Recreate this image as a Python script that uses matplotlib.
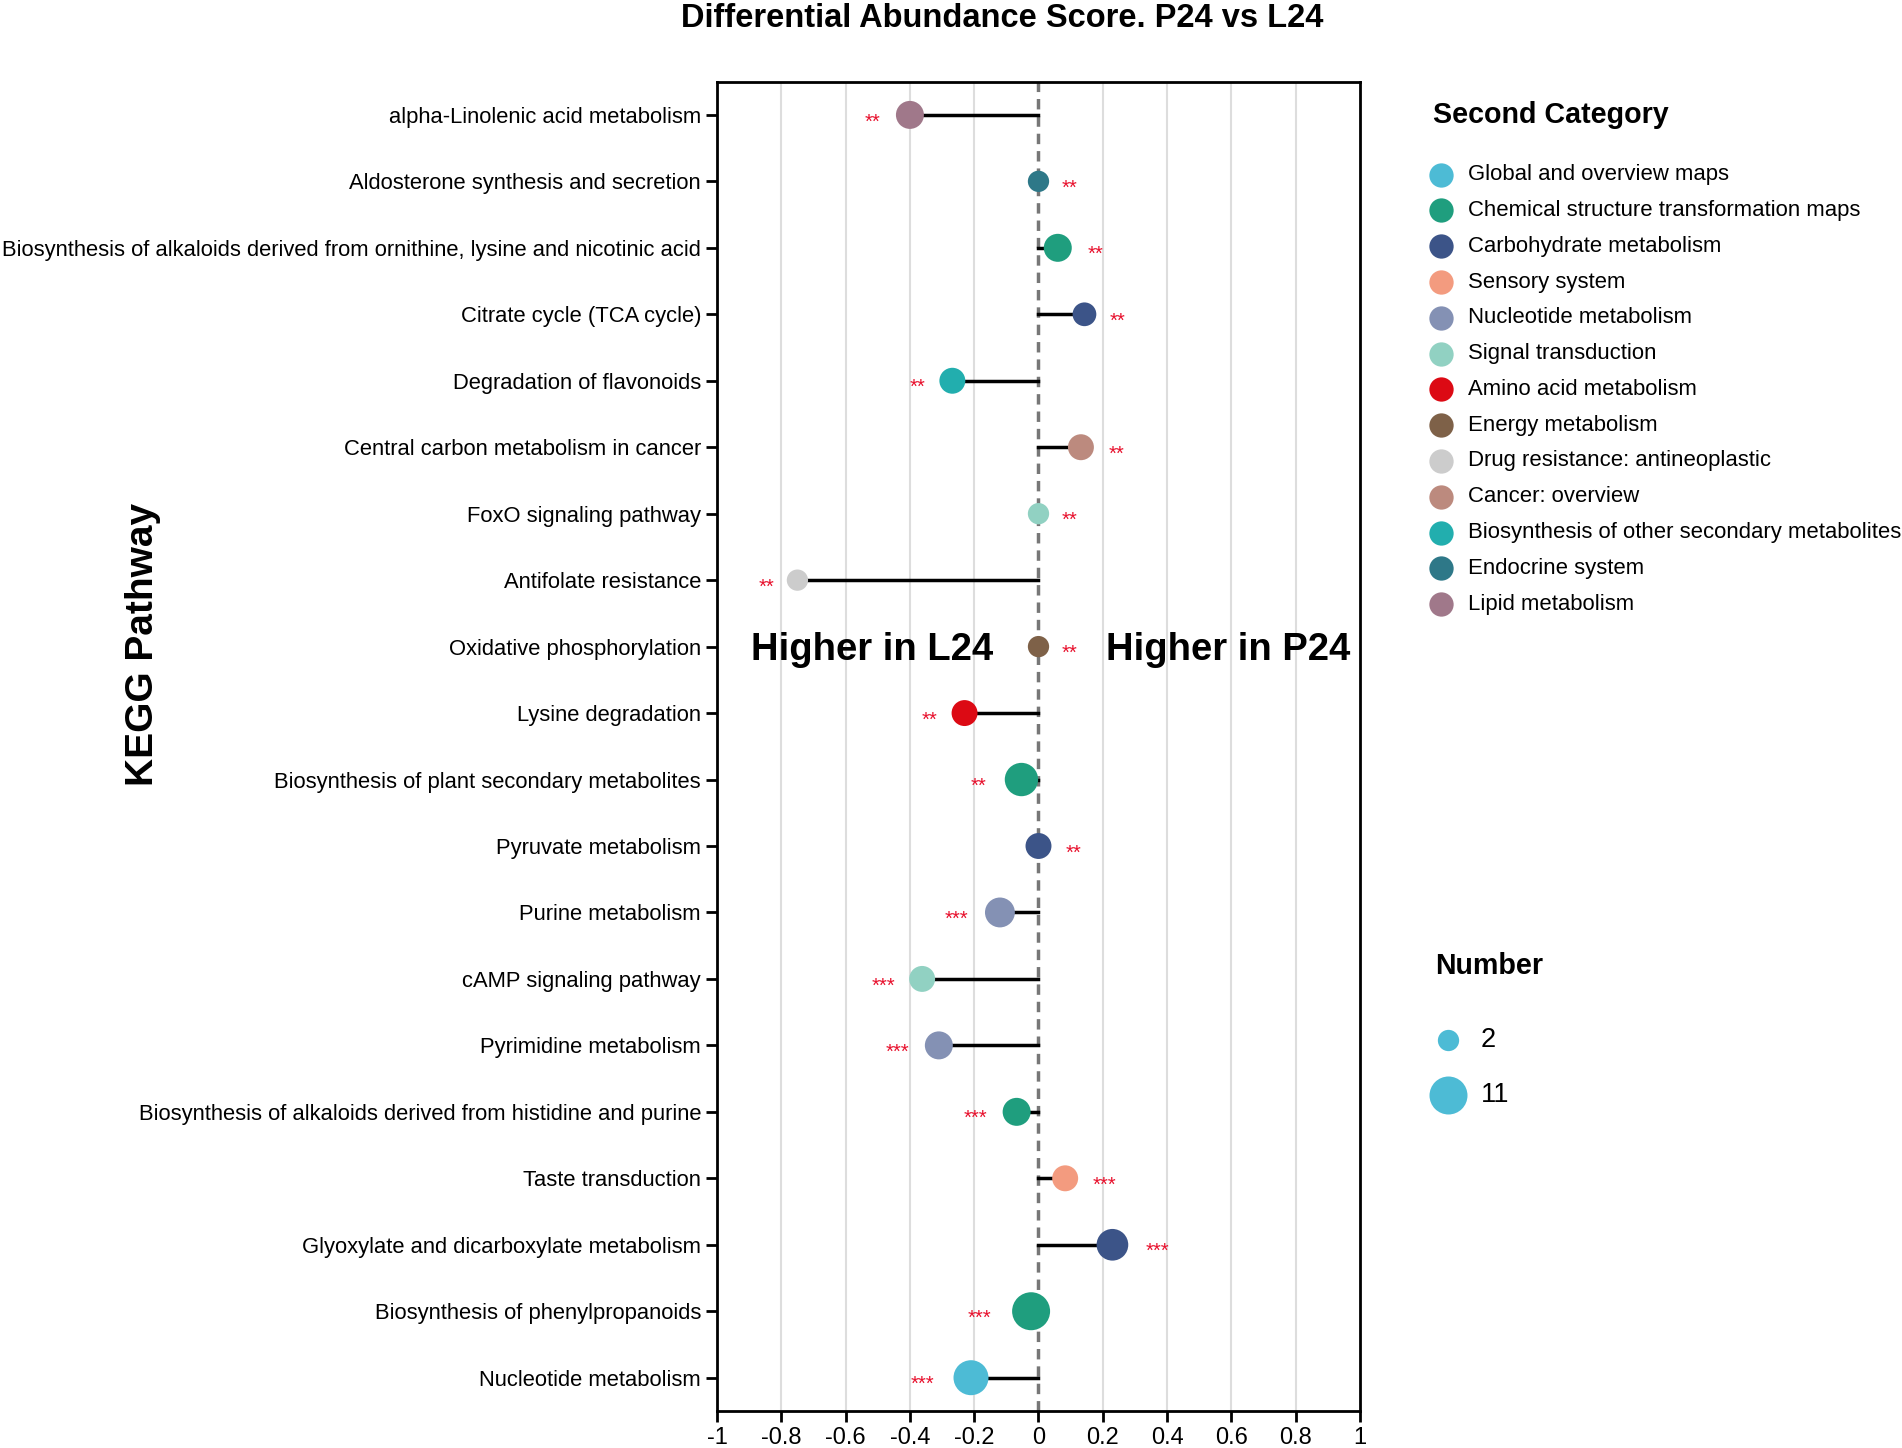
import matplotlib
matplotlib.use("Agg")
import matplotlib.pyplot as plt
from matplotlib.lines import Line2D
import numpy as np

plt.rcParams['font.family'] = ['Liberation Sans', 'DejaVu Sans']

# pathways, top to bottom
pathways = [
    "alpha-Linolenic acid metabolism",
    "Aldosterone synthesis and secretion",
    "Biosynthesis of alkaloids derived from ornithine, lysine and nicotinic acid",
    "Citrate cycle (TCA cycle)",
    "Degradation of flavonoids",
    "Central carbon metabolism in cancer",
    "FoxO signaling pathway",
    "Antifolate resistance",
    "Oxidative phosphorylation",
    "Lysine degradation",
    "Biosynthesis of plant secondary metabolites",
    "Pyruvate metabolism",
    "Purine metabolism",
    "cAMP signaling pathway",
    "Pyrimidine metabolism",
    "Biosynthesis of alkaloids derived from histidine and purine",
    "Taste transduction",
    "Glyoxylate and dicarboxylate metabolism",
    "Biosynthesis of phenylpropanoids",
    "Nucleotide metabolism",
]
da_score = [-0.40, 0.0, 0.06, 0.143, -0.268, 0.132, 0.0, -0.75, 0.0, -0.23,
            -0.053, 0.0, -0.12, -0.362, -0.31, -0.068, 0.083, 0.23, -0.023, -0.21]
number = [5, 2, 5, 3, 4, 4, 2, 2, 2, 4, 8, 4, 6, 4, 5, 5, 4, 7, 11, 9]
signif = ["**"] * 12 + ["***"] * 8
category = [
    "Lipid metabolism", "Endocrine system", "Chemical structure transformation maps",
    "Carbohydrate metabolism", "Biosynthesis of other secondary metabolites",
    "Cancer: overview", "Signal transduction", "Drug resistance: antineoplastic",
    "Energy metabolism", "Amino acid metabolism", "Chemical structure transformation maps",
    "Carbohydrate metabolism", "Nucleotide metabolism", "Signal transduction",
    "Nucleotide metabolism", "Chemical structure transformation maps", "Sensory system",
    "Carbohydrate metabolism", "Chemical structure transformation maps",
    "Global and overview maps",
]

cat_names = [
    "Global and overview maps", "Chemical structure transformation maps",
    "Carbohydrate metabolism", "Sensory system", "Nucleotide metabolism",
    "Signal transduction", "Amino acid metabolism", "Energy metabolism",
    "Drug resistance: antineoplastic", "Cancer: overview",
    "Biosynthesis of other secondary metabolites", "Endocrine system",
    "Lipid metabolism",
]
cat_colors = ["#4DBBD5", "#1F9E7E", "#3C5488", "#F39B7F", "#8491B4", "#91D1C2",
              "#DC0A14", "#7E6148", "#CCCCCC", "#BC8A7E", "#22AEAE", "#2E7888",
              "#A0788A"]
color_of = dict(zip(cat_names, cat_colors))
size_breaks = [2, 11]


def size_of(n):
    return 235 + (n - 2) * 57


fig = plt.figure(figsize=(19.02, 14.48), dpi=100)
ax = fig.add_axes([0.377, 0.0256, 0.338, 0.918])

ypos = np.arange(len(pathways))
ax.set_ylim(len(pathways) - 0.5, -0.5)
ax.set_xlim(-1, 1)

for xv in np.arange(-0.8, 0.81, 0.2):
    if abs(xv) > 1e-6:
        ax.axvline(xv, color="#DDDDDD", lw=1.5, zorder=0)
ax.axvline(0, color="#777777", lw=2.5, ls=(0, (3, 2)), zorder=1)

for i in range(len(pathways)):
    ax.plot([0, da_score[i]], [ypos[i], ypos[i]], color="black", lw=2.5, zorder=2)

sizes = [size_of(n) for n in number]
ax.scatter(da_score, ypos, s=sizes, c=[color_of[c] for c in category],
           edgecolors="none", zorder=3)

for i in range(len(pathways)):
    off = np.sqrt(sizes[i]) + 1.0
    if da_score[i] >= 0:
        ax.annotate(signif[i], (da_score[i], ypos[i]), xytext=(off, -5),
                    textcoords="offset points", ha="left", va="center",
                    color="#E8112D", fontsize=14.5)
    else:
        ax.annotate(signif[i], (da_score[i], ypos[i]), xytext=(-off, -5),
                    textcoords="offset points", ha="right", va="center",
                    color="#E8112D", fontsize=14.5)

ax.text(-0.517, 8.05, "Higher in L24", ha="center", va="center",
        fontsize=27.5, fontweight="bold")
ax.text(0.589, 8.05, "Higher in P24", ha="center", va="center",
        fontsize=27.5, fontweight="bold")

ax.set_yticks(ypos)
ax.set_yticklabels(pathways, fontsize=15.8)
xt = np.round(np.arange(-1, 1.01, 0.2), 1)
ax.set_xticks(xt)
ax.set_xticklabels(["-1" if v == -1 else "1" if v == 1 else "0" if v == 0 else "%g" % v
                    for v in xt], fontsize=17)
ax.tick_params(axis="both", direction="out", length=8, width=2)
for sp in ax.spines.values():
    sp.set_linewidth(2)

fig.text(0.0753, 0.555, "KEGG Pathway", rotation=90, ha="center", va="center",
         fontsize=28, fontweight="bold")
fig.text(0.527, 0.9874, "Differential Abundance Score. P24 vs L24", ha="center",
         va="center", fontsize=23.5, fontweight="bold")

# category legend, drawn by hand in figure coordinates
H = 1193.7
W = 1568.0
fig.text(1181 / W, 1 - 95 / H, "Second Category", ha="left", va="center",
         fontsize=20.6, fontweight="bold")
for k in range(len(cat_names)):
    yk = 1 - (144 + k * 29.5) / H
    fig.add_artist(Line2D([1188 / W], [yk], marker="o", ls="", color=cat_colors[k],
                          markersize=17.5, markeredgewidth=0,
                          transform=fig.transFigure))
    fig.text(1210 / W, yk, cat_names[k], ha="left", va="center", fontsize=15.9)

# size legend
fig.text(1183 / W, 1 - 796 / H, "Number", ha="left", va="center",
         fontsize=20.6, fontweight="bold")
for k, n in enumerate(size_breaks):
    yk = 1 - (857 + k * 46) / H
    fig.add_artist(Line2D([1194 / W], [yk], marker="o", ls="", color="#4DBBD5",
                          markersize=np.sqrt(size_of(n)), markeredgewidth=0,
                          transform=fig.transFigure))
    fig.text(1221 / W, yk, str(n), ha="left", va="center", fontsize=19.5)

fig.savefig("out.png", dpi=100)
